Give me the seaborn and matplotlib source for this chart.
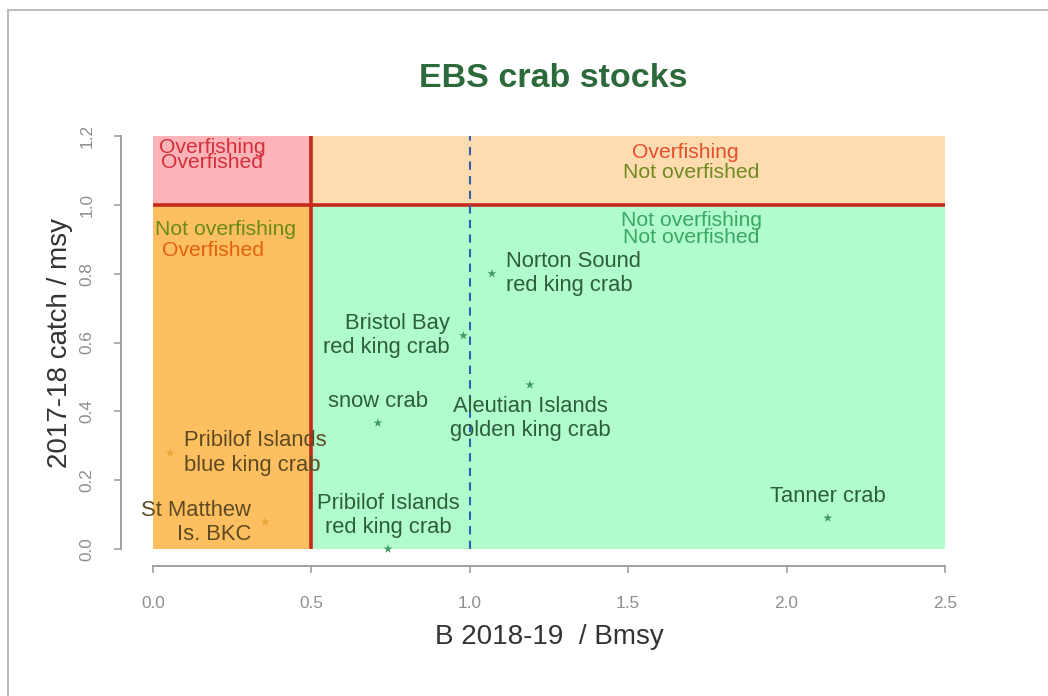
import matplotlib
matplotlib.use("Agg")
import matplotlib.pyplot as plt
from matplotlib.lines import Line2D
from matplotlib.patches import Rectangle
import pandas as pd
import seaborn as sns

# stock status
stocks = ["Norton Sound\nred king crab", "Bristol Bay\nred king crab",
          "Aleutian Islands\ngolden king crab", "snow crab",
          "Pribilof Islands\nblue king crab", "St Matthew\nIs. BKC",
          "Pribilof Islands\nred king crab", "Tanner crab"]
b_ratio = [1.07, 0.98, 1.19, 0.71, 0.054, 0.354, 0.742, 2.13]
catch_ratio = [0.80, 0.62, 0.477, 0.366, 0.279, 0.078, 0.0, 0.09]
# where each label sits relative to its point (R style pos: 1 below, 2 left, 3 above, 4 right)
label_pos = [4, 2, 1, 3, 4, 2, 3, 3]

x_ticks = [0.0, 0.5, 1.0, 1.5, 2.0, 2.5]
y_ticks = [0.0, 0.2, 0.4, 0.6, 0.8, 1.0, 1.2]

B_LIMIT = 0.5     # overfished threshold
F_LIMIT = 1.0     # overfishing threshold
B_TARGET = 1.0

df = pd.DataFrame({"stock": stocks, "b": b_ratio, "catch": catch_ratio, "pos": label_pos})
df["zone"] = ["overfished" if b < B_LIMIT else "ok" for b in df["b"]]

sns.set_style("white")
plt.rcParams["font.family"] = ["Liberation Sans", "DejaVu Sans"]

fig = plt.figure(figsize=(10.48, 6.96), dpi=100)
ax = fig.add_axes([0.1157, 0.1875, 0.8162, 0.6408])

xmax, ymax = x_ticks[-1], y_ticks[-1]
ax.set_xlim(-0.04 * xmax, 1.04 * xmax)
ax.set_ylim(-0.04 * ymax, 1.04 * ymax)

# status zones
ax.add_patch(Rectangle((0, F_LIMIT), B_LIMIT, ymax - F_LIMIT, color="#fdb4b8", lw=0, zorder=0))
ax.add_patch(Rectangle((B_LIMIT, F_LIMIT), xmax - B_LIMIT, ymax - F_LIMIT, color="#fedcb0", lw=0, zorder=0))
ax.add_patch(Rectangle((0, 0), B_LIMIT, F_LIMIT, color="#fdbf60", lw=0, zorder=0))
ax.add_patch(Rectangle((B_LIMIT, 0), xmax - B_LIMIT, F_LIMIT, color="#b0fccc", lw=0, zorder=0))

ax.hlines(F_LIMIT, 0, xmax, color="#c42a1c", lw=2.6, zorder=2)
ax.vlines(B_LIMIT, 0, ymax, color="#c42a1c", lw=2.6, zorder=2)
ax.vlines(B_TARGET, 0, ymax, color="#2f5fae", lw=1.5, ls=(0, (4, 3)), zorder=2)

sns.scatterplot(data=df, x="b", y="catch", hue="zone",
                palette={"overfished": "#e9a535", "ok": "#3e9a62"},
                marker="*", s=45, linewidth=0, legend=False, ax=ax, zorder=3)

fs = 15.8
for _, r in df.iterrows():
    col = "#5e4a22" if r["zone"] == "overfished" else "#2d5e3c"
    if r["pos"] == 4:
        kw = dict(xytext=(10, 0), ha="left", va="center")
    elif r["pos"] == 2:
        kw = dict(xytext=(-10, 0), ha="right", va="center")
    elif r["pos"] == 1:
        kw = dict(xytext=(0, -8), ha="center", va="top")
    else:
        kw = dict(xytext=(0, 8), ha="center", va="bottom")
    ax.annotate(r["stock"], (r["b"], r["catch"]), textcoords="offset points",
                fontsize=fs, color=col, linespacing=1.2, zorder=4,
                multialignment=kw["ha"], **kw)

# zone captions
rfs = 15.2
ax.text(0.186, 1.145, "Overfishing\nOverfished", color="#d4303c", fontsize=rfs,
        ha="center", va="center", linespacing=0.78)
ax.text(1.68, 1.151, "Overfishing", color="#e4502e", fontsize=rfs, ha="center", va="center")
ax.text(1.70, 1.093, "Not overfished", color="#6f8a22", fontsize=rfs, ha="center", va="center")
ax.text(0.23, 0.927, "Not overfishing", color="#6a8a18", fontsize=rfs, ha="center", va="center")
ax.text(0.19, 0.868, "Overfished", color="#e2620e", fontsize=rfs, ha="center", va="center")
ax.text(1.70, 0.930, "Not overfishing\nNot overfished", color="#3aa864", fontsize=rfs,
        ha="center", va="center", linespacing=0.85)

# R-like axes
for s in ["top", "right"]:
    ax.spines[s].set_visible(False)
for s in ["left", "bottom"]:
    ax.spines[s].set_color("#a0a0a0")
    ax.spines[s].set_linewidth(1.4)
ax.spines["bottom"].set_bounds(x_ticks[0], x_ticks[-1])
ax.spines["left"].set_bounds(y_ticks[0], y_ticks[-1])
ax.set_xticks(x_ticks)
ax.set_yticks(y_ticks)
ax.set_xticklabels([f"{v:.1f}" for v in x_ticks])
ax.set_yticklabels([f"{v:.1f}" for v in y_ticks], rotation=90, va="center")
ax.tick_params(axis="both", direction="out", length=5, width=1.2, color="#a0a0a0",
               labelcolor="#8e8e8e", labelsize=12.4, bottom=True, left=True)
ax.tick_params(axis="x", pad=17)
ax.tick_params(axis="y", pad=14)

ax.set_xlabel("B 2018-19  / Bmsy", fontsize=20, color="#333333", labelpad=9)
ax.set_ylabel("2017-18 catch / msy", fontsize=20, color="#333333", labelpad=5)
fig.text(0.528, 0.887, "EBS crab stocks", fontsize=24.5, fontweight="bold",
         color="#2c6a3c", ha="center", va="center")

# light frame of the original panel
fig.add_artist(Line2D([8 / 1048, 1], [686 / 696, 686 / 696], color="#bdbdbd", lw=1.5))
fig.add_artist(Line2D([8 / 1048, 8 / 1048], [0, 686 / 696], color="#bdbdbd", lw=1.5))

fig.savefig("out.png", dpi=100)
